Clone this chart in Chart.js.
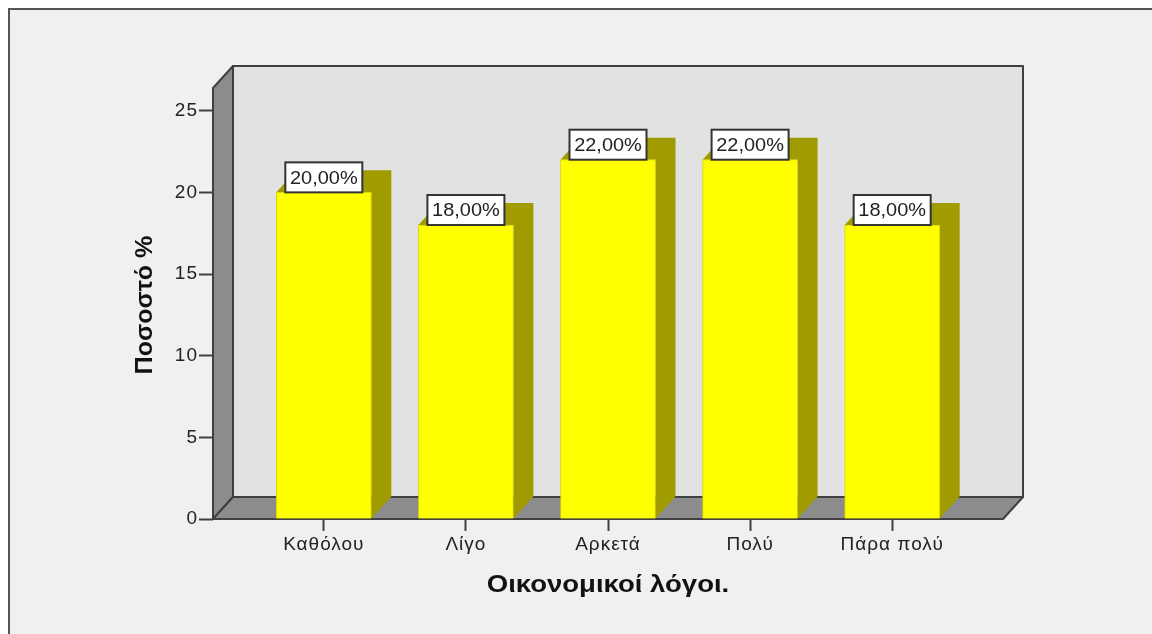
<!DOCTYPE html>
<html>
<head>
<meta charset="utf-8">
<style>
  html, body { margin: 0; padding: 0; background: #fff; }
  canvas { display: block; }
</style>
<script src="https://cdn.jsdelivr.net/npm/chart.js@4/dist/chart.umd.min.js"></script>
</head>
<body>
<canvas id="myChart" width="1152" height="634"></canvas>
<script>
const categories = ["Καθόλου", "Λίγο", "Αρκετά", "Πολύ", "Πάρα πολύ"];
const percentages = [20, 18, 22, 22, 18];
const valueLabels = ["20,00%", "18,00%", "22,00%", "22,00%", "18,00%"];
const yTicks = [0, 5, 10, 15, 20, 25];
const xTitle = "Οικονομικοί λόγοι.";
const yTitle = "Ποσοστό %";

// depth of the fake 3d box
const depthX = 20;
const depthY = 22;
const lineColor = "#404040";
const olive = "#a09c00";

function polygon(ctx, points, fill, stroke) {
  ctx.beginPath();
  points.forEach(function (p, i) {
    if (i === 0) ctx.moveTo(p[0], p[1]);
    else ctx.lineTo(p[0], p[1]);
  });
  ctx.closePath();
  ctx.fillStyle = fill;
  ctx.fill();
  if (stroke) {
    ctx.strokeStyle = stroke;
    ctx.lineWidth = 2;
    ctx.stroke();
  }
}

const framePlugin = {
  id: "frame",
  beforeDraw: function (chart) {
    const ctx = chart.ctx;
    // tick labels are wider in the original
    ctx.letterSpacing = "1px";
    ctx.save();
    ctx.fillStyle = "#ffffff";
    ctx.fillRect(0, 0, 1152, 634);
    ctx.fillStyle = "#f0f0f0";
    ctx.fillRect(9, 9, 1143, 625);
    ctx.strokeStyle = "#555555";
    ctx.lineWidth = 2;
    ctx.beginPath();
    ctx.moveTo(9, 634);
    ctx.lineTo(9, 9);
    ctx.lineTo(1152, 9);
    ctx.stroke();
    ctx.restore();
  },
};

const boxPlugin = {
  id: "box3d",
  beforeDatasetsDraw: function (chart) {
    const ctx = chart.ctx;
    const a = chart.chartArea;
    ctx.save();
    ctx.lineJoin = "round";
    // back wall, left wall, floor
    polygon(ctx, [[a.left + depthX, a.top - depthY], [a.right + depthX, a.top - depthY], [a.right + depthX, a.bottom - depthY], [a.left + depthX, a.bottom - depthY]], "#e2e2e2", lineColor);
    polygon(ctx, [[a.left, a.top], [a.left + depthX, a.top - depthY], [a.left + depthX, a.bottom - depthY], [a.left, a.bottom]], "#8c8c8c", lineColor);
    polygon(ctx, [[a.left, a.bottom], [a.left + depthX, a.bottom - depthY], [a.right + depthX, a.bottom - depthY], [a.right, a.bottom]], "#8c8c8c", lineColor);
    // side and top faces of every bar, one shape so no seam shows
    chart.getDatasetMeta(0).data.forEach(function (bar) {
      const left = bar.x - bar.width / 2;
      const right = bar.x + bar.width / 2;
      polygon(ctx, [[left, bar.y], [left + depthX, bar.y - depthY], [right + depthX, bar.y - depthY], [right + depthX, bar.base - depthY], [right, bar.base], [right, bar.y]], olive);
    });
    ctx.restore();
  },
  afterDatasetsDraw: function (chart) {
    const ctx = chart.ctx;
    ctx.save();
    ctx.letterSpacing = "0px";
    ctx.font = "19px 'Liberation Sans'";
    ctx.textAlign = "center";
    ctx.textBaseline = "middle";
    chart.getDatasetMeta(0).data.forEach(function (bar, i) {
      const w = 77;
      const h = 30;
      ctx.fillStyle = "#ffffff";
      ctx.fillRect(bar.x - w / 2, bar.y - h, w, h);
      ctx.strokeStyle = "#333333";
      ctx.lineWidth = 2;
      ctx.strokeRect(bar.x - w / 2, bar.y - h, w, h);
      ctx.fillStyle = "#222222";
      ctx.save();
      ctx.translate(bar.x, bar.y - h / 2 + 1);
      ctx.scale(1.05, 1);
      ctx.fillText(valueLabels[i], 0, 0);
      ctx.restore();
    });
    ctx.restore();
  },
};

// axis titles are stretched sideways in the original
const titlePlugin = {
  id: "axisTitles",
  afterDraw: function (chart) {
    const ctx = chart.ctx;
    const a = chart.chartArea;
    ctx.save();
    ctx.letterSpacing = "0px";
    ctx.fillStyle = "#111111";
    ctx.textAlign = "center";
    ctx.textBaseline = "middle";
    ctx.font = "bold 24px 'Liberation Sans'";
    ctx.save();
    ctx.translate((a.left + a.right) / 2, 585);
    ctx.scale(1.146, 1);
    ctx.fillText(xTitle, 0, 0);
    ctx.restore();
    ctx.translate(145, 305);
    ctx.rotate(-Math.PI / 2);
    ctx.scale(1.045, 1);
    ctx.fillText(yTitle, 0, 0);
    ctx.restore();
  },
};

new Chart(document.getElementById("myChart"), {
  type: "bar",
  data: {
    datasets: [
      {
        data: percentages.map(function (v, i) {
          return { x: i, y: v };
        }),
        backgroundColor: "#ffff00",
        borderColor: "#d8d800",
        borderWidth: 1,
        barThickness: 95,
      },
    ],
  },
  plugins: [framePlugin, boxPlugin, titlePlugin],
  options: {
    responsive: false,
    animation: false,
    layout: { padding: { left: 0, right: 149, top: 88, bottom: 0 } },
    plugins: { legend: { display: false }, tooltip: { enabled: false } },
    scales: {
      x: {
        type: "linear",
        offset: false,
        min: -0.78,
        max: 4.78,
        afterBuildTicks: function (scale) {
          scale.ticks = categories.map(function (c, i) {
            return { value: i };
          });
        },
        afterFit: function (scale) {
          scale.height = 115;
        },
        grid: { offset: false, drawOnChartArea: false, tickLength: 12, tickColor: lineColor, tickWidth: 2 },
        border: { display: false },
        ticks: {
          autoSkip: false,
          maxRotation: 0,
          color: "#222222",
          font: { family: "Liberation Sans", size: 19 },
          padding: 2,
          callback: function (value) {
            return categories[value];
          },
        },
      },
      y: {
        min: 0,
        max: 26.39,
        afterBuildTicks: function (scale) {
          scale.ticks = yTicks.map(function (v) {
            return { value: v };
          });
        },
        afterFit: function (scale) {
          scale.width = 213;
        },
        grid: { drawOnChartArea: false, tickLength: 14, tickColor: lineColor, tickWidth: 2 },
        border: { display: false },
        ticks: {
          color: "#222222",
          font: { family: "Liberation Sans", size: 19 },
          padding: 1,
        },
      },
    },
  },
});
</script>
</body>
</html>
